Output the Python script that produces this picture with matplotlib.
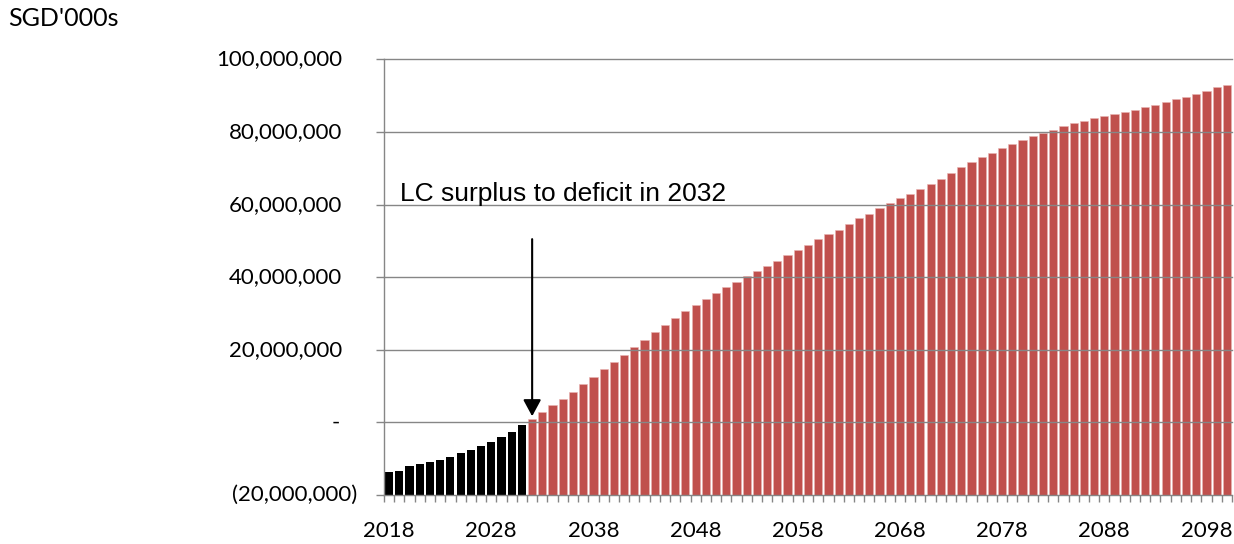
import matplotlib.pyplot as plt
import matplotlib.transforms as mtransforms
import numpy as np

# SGD'000s, in millions; surplus years drawn black, deficit years red
years = list(range(2018, 2101))
lc_surplus = [-13.55, -13.27, -11.98, -11.34, -10.78, -10.23, -9.4, -8.3, -7.5,
              -6.4, -5.35, -3.9, -2.6, -0.83]
lc_deficit = [1.0, 2.75, 4.7, 6.5, 8.5, 10.5, 12.5, 14.6, 16.6, 18.7,
              20.7, 22.8, 24.8, 26.8, 28.7, 30.6, 32.3, 34.1, 35.7, 37.2,
              38.7, 40.3, 41.6, 43.1, 44.6, 46.2, 47.6, 49.0, 50.5, 51.8,
              53.1, 54.7, 56.2, 57.55, 59.0, 60.4, 61.8, 63.0, 64.4, 65.8,
              67.2, 68.8, 70.3, 71.8, 73.1, 74.3, 75.6, 76.7, 77.8, 78.9,
              79.7, 80.7, 81.6, 82.4, 83.1, 83.8, 84.4, 84.9, 85.5, 86.2,
              86.9, 87.5, 88.2, 89.0, 89.6, 90.5, 91.4, 92.3, 93.1]
ytick_vals = [-20, 0, 20, 40, 60, 80, 100]
ytick_labels = ["(20,000,000)", "-", "20,000,000", "40,000,000", "60,000,000",
                "80,000,000", "100,000,000"]
xtick_years = [2018, 2028, 2038, 2048, 2058, 2068, 2078, 2088, 2098]
switch_year = 2032

FONT = "Lato"
GRID = "#868686"

fig = plt.figure(figsize=(12.34, 5.44), dpi=100)
ax = fig.add_axes([384 / 1234, 1 - 495 / 544, 848 / 1234, 435.5 / 544])

ymin, ymax = ytick_vals[0] * 1e6, ytick_vals[-1] * 1e6
x = np.arange(len(years))
vals = np.array(lc_surplus + lc_deficit) * 1e6
n_s = len(lc_surplus)

# bars start from the bottom of the axis, like the excel original
ax.bar(x[:n_s], vals[:n_s] - ymin, bottom=ymin, width=0.8, color="black", zorder=2)
ax.bar(x[n_s:], vals[n_s:] - ymin, bottom=ymin, width=0.8, color="#C0504D",
       edgecolor="#E8B4B3", linewidth=0.4, zorder=2)

for v in ytick_vals[1:]:
    ax.axhline(v * 1e6, color=GRID, lw=1.0, zorder=3, clip_on=False)

ax.set_xlim(-0.5, len(years) - 0.5)
ax.set_ylim(ymin, ymax)

for s in ["top", "right"]:
    ax.spines[s].set_visible(False)
for s in ["left", "bottom"]:
    ax.spines[s].set_color(GRID)
    ax.spines[s].set_linewidth(1.0)
    ax.spines[s].set_zorder(3)

# x ticks sit between categories, labels every ten years
ax.set_xticks(np.arange(-0.5, len(years), 1))
ax.set_xticklabels([])
ax.tick_params(axis="x", which="major", length=5, width=1.0, color=GRID, direction="out")
ax.set_xticks([years.index(y) for y in xtick_years], minor=True)
ax.set_xticklabels([str(y) for y in xtick_years], minor=True, fontfamily=FONT, fontsize=16)
ax.tick_params(axis="x", which="minor", length=0, pad=19)

ax.set_yticks([v * 1e6 for v in ytick_vals])
ax.set_yticklabels([])
ax.tick_params(axis="y", length=6, width=1.0, color=GRID, direction="out")

# accounting style y labels: positives padded on the right
for v, lab in zip(ytick_vals, ytick_labels):
    if v < 0:
        dx = -27
    elif v == 0:
        dx = -44
    else:
        dx = -42
    tr = mtransforms.offset_copy(ax.get_yaxis_transform(), fig=fig, x=dx, y=0, units="dots")
    ax.text(0, v * 1e6, lab, transform=tr, ha="right", va="center",
            fontfamily=FONT, fontsize=16, clip_on=False)

fig.text(8 / 1234, 1 - 19 / 544, "SGD'000s", ha="left", va="center",
         fontfamily=FONT, fontsize=18)

xi = years.index(switch_year)
ax.annotate("", xy=(xi, 1.7e6), xytext=(xi, 50.5e6),
            arrowprops=dict(arrowstyle="-|>,head_length=0.5,head_width=0.27",
                            mutation_scale=20, lw=1.5, color="black",
                            shrinkA=0, shrinkB=0), zorder=4)
ax.text(1.05, 61.0e6, "LC surplus to deficit in 2032", ha="left", va="baseline",
        fontfamily="Liberation Sans", fontsize=19, zorder=4)

fig.savefig("out.png", dpi=100)
